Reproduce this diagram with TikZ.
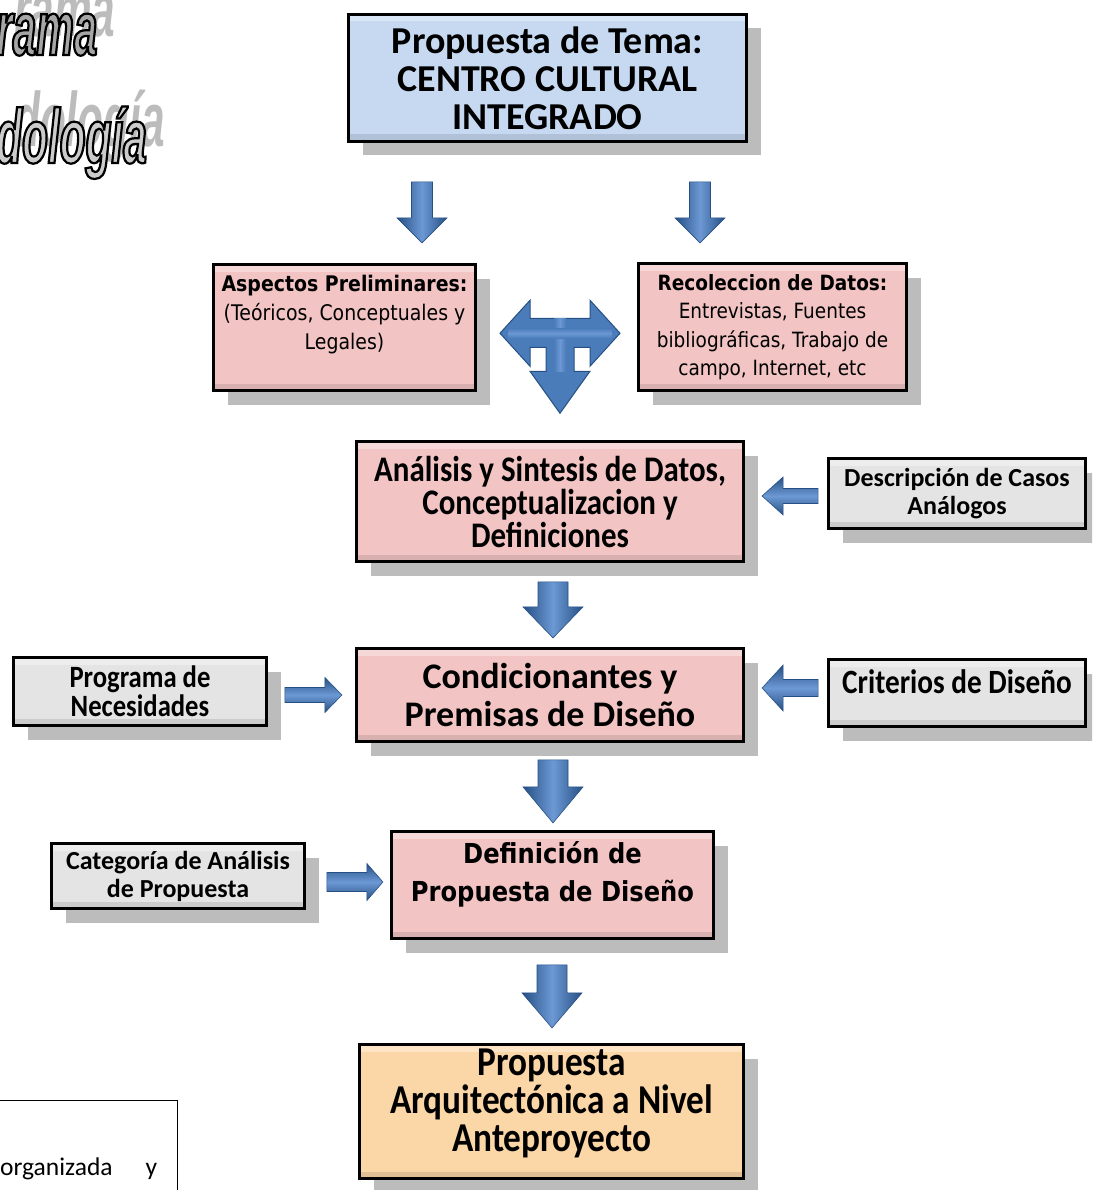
\documentclass[tikz,border=0pt]{standalone}
\usepackage{fontspec}
\usetikzlibrary{calc,shadows}
\setmainfont{Carlito}
\newfontfamily\calfont{Carlito}
\newfontfamily\calcond[FakeStretch=0.86]{Carlito}
\newfontfamily\dvcond[FakeStretch=0.88]{DejaVu Sans}
\newfontfamily\wordart[FakeStretch=0.55]{Liberation Sans}
\newcommand\outlinedtext[1]{\special{pdf:literal q 0 0 0 RG 2.2 w 2 Tr}#1\special{pdf:literal Q}}
\definecolor{arrdark}{RGB}{38,80,132}
\definecolor{arrmid}{RGB}{108,152,212}
\definecolor{arrfill}{RGB}{74,124,186}
\definecolor{pinkfill}{RGB}{242,196,196}
\definecolor{bluefill}{RGB}{198,217,241}
\definecolor{grayfill}{RGB}{228,228,228}
\definecolor{orangefill}{RGB}{251,214,166}
\definecolor{shadowgray}{RGB}{188,188,188}
\tikzset{
  boxbase/.style={draw=black, line width=2.8pt, inner sep=0pt, align=center, text=black,
    drop shadow={shadow xshift=14pt, shadow yshift=-14pt, fill=shadowgray, opacity=1},
    path picture={
      \fill[white,opacity=0.35] (path picture bounding box.north west) rectangle ([yshift=-7pt]path picture bounding box.north east);
      \fill[black,opacity=0.10] ([yshift=7pt]path picture bounding box.south west) rectangle (path picture bounding box.south east);
    }},
  bluebox/.style={boxbase, fill=bluefill},
  pinkbox/.style={boxbase, fill=pinkfill},
  graybox/.style={boxbase, fill=grayfill},
  orangebox/.style={boxbase, fill=orangefill},
  boxtext/.style={align=center, inner sep=0pt, text=black},
  wordartstyle/.style={anchor=base west, inner sep=0pt, font={\wordart\bfseries\itshape\fontsize{77}{77}\selectfont}},
  vshade/.style={left color=arrdark, right color=arrdark, middle color=arrmid, draw=arrdark, line width=0.6pt},
  hshade/.style={top color=arrdark, bottom color=arrdark, middle color=arrmid, draw=arrdark, line width=0.6pt},
  tshade/.style={fill=arrfill, draw=arrdark, line width=1pt, line join=miter},
}
% #1 top centre, #2 shaft half width, #3 head half width, #4 length, #5 head base
\newcommand\vdarrow[5]{\shade[vshade, shift={(#1)}] (-#2,0) -- (#2,0) -- (#2,#5) -- (#3,#5) -- (0,#4) -- (-#3,#5) -- (-#2,#5) -- cycle;}
% #1 tail centre, #2 shaft half width, #3 head half width, #4 tip, #5 head base
\newcommand\harrow[5]{\shade[hshade, shift={(#1)}] (0,-#2) -- (#5,-#2) -- (#5,-#3) -- (#4,0) -- (#5,#3) -- (#5,#2) -- (0,#2) -- cycle;}
\begin{document}
\begin{tikzpicture}[x=1pt,y=-1pt]
\useasboundingbox (0,0) rectangle (1092,1190);
\clip (0,0) rectangle (1092,1190);

% title fragments (top left)
\node[wordartstyle, text=shadowgray] (ramash) at (14,37) {rama};
\node[wordartstyle, text=gray!70] (rama) at (-4,55) {\outlinedtext{rama}};
\node[wordartstyle, text=shadowgray] (dolsh) at (14,147) {dología};
\node[wordartstyle, text=gray!40] (dol) at (-4,163) {\outlinedtext{dología}};

% boxes
\node[bluebox, minimum width=398, minimum height=127, font={\calfont\bfseries\fontsize{38}{38}\selectfont}] (top) at (547.5,78) {Propuesta de Tema:\\CENTRO CULTURAL\\INTEGRADO};

\node[pinkbox, minimum width=262, minimum height=126] (asp) at (344.5,327.5) {};
\node[boxtext, font={\dvcond\fontsize{21.5}{29}\selectfont}] (asptext) at ($(asp.center)+(0,-13)$) {\textbf{Aspectos Preliminares:}\\(Teóricos, Conceptuales y\\Legales)};

\node[pinkbox, minimum width=268, minimum height=127, font={\dvcond\fontsize{21}{28.5}\selectfont}] (rec) at (772.5,327) {\textbf{Recoleccion de Datos:}\\Entrevistas, Fuentes\\bibliográficas, Trabajo de\\campo, Internet, etc};

\node[pinkbox, minimum width=387, minimum height=120, font={\calcond\bfseries\fontsize{36}{33}\selectfont}] (ana) at (550,501.5) {Análisis y Sintesis de Datos,\\Conceptualizacion y\\Definiciones};

\node[graybox, minimum width=257, minimum height=70, font={\calfont\bfseries\fontsize{26}{28}\selectfont}] (desc) at (957,493.5) {Descripción de Casos\\Análogos};

\node[graybox, minimum width=253, minimum height=68, font={\calcond\bfseries\fontsize{31}{29}\selectfont}] (prog) at (140,691.5) {Programa de\\Necesidades};

\node[pinkbox, minimum width=387, minimum height=93, font={\calfont\bfseries\fontsize{36}{38}\selectfont}] (cond) at (550,695) {Condicionantes y\\Premisas de Diseño};

\node[graybox, minimum width=257, minimum height=67] (crit) at (957,693) {};
\node[boxtext, font={\calcond\bfseries\fontsize{34}{34}\selectfont}] (crittext) at ($(crit.center)+(0,-11)$) {Criterios de Diseño};

\node[pinkbox, minimum width=322, minimum height=107] (def) at (552.5,885) {};
\node[boxtext, font={\dvcond\bfseries\fontsize{27.5}{38}\selectfont}] (deftext) at ($(def.center)+(0,-11)$) {Definición de\\Propuesta de Diseño};

\node[graybox, minimum width=253, minimum height=65, font={\calfont\bfseries\fontsize{26}{28}\selectfont}] (cat) at (178,876) {Categoría de Análisis\\de Propuesta};

\node[orangebox, minimum width=384, minimum height=134] (fin) at (551.5,1111.5) {};
\node[boxtext, font={\calcond\bfseries\fontsize{41}{38}\selectfont}] (fintext) at ($(fin.center)+(0,-8)$) {Propuesta\\Arquitectónica a Nivel\\Anteproyecto};

% partial note box (bottom left)
\node[draw=black, line width=1.2pt, minimum width=200, minimum height=110, anchor=north east, inner sep=0pt] (note) at (178,1100) {};
\node[anchor=base west, inner sep=0pt, font={\calfont\fontsize{25.5}{30}\selectfont}] (notetext) at (0,1175) {\makebox[157pt][s]{organizada y}};

% block arrows
\coordinate (v1) at ($(top.south)+(-125.5,39)$);
\coordinate (v2) at ($(top.south)+(152.5,39)$);
\coordinate (v3) at ($(ana.south)+(3,19)$);
\coordinate (v4) at ($(cond.south)+(3,17)$);
\coordinate (v5) at ($(def.south)+(-0.5,25)$);
\vdarrow{v1}{10.5}{25}{61}{36}
\vdarrow{v2}{10.5}{25}{61}{36}
\vdarrow{v3}{15}{30}{56}{25}
\vdarrow{v4}{15}{30}{63}{27}
\vdarrow{v5}{15}{30}{63}{28}

\coordinate (h1) at ($(desc.west)+(-9,2.5)$);
\coordinate (h2) at ($(crit.west)+(-9,-5)$);
\coordinate (h3) at ($(prog.east)+(17,3.5)$);
\coordinate (h4) at ($(cat.east)+(21,6)$);
\harrow{h1}{7.5}{19}{-56}{-35}
\harrow{h2}{8.5}{23}{-56}{-35}
\harrow{h3}{7.5}{17.5}{57}{40}
\harrow{h4}{9.5}{18.5}{56}{40}

% T-shaped arrow between the two upper boxes and down to the analysis box
\coordinate (tc) at ($(asp.east)!0.5!(rec.west)+(3,6)$);
\path[tshade, shift={(tc)}] (-60,0) -- (-30,-33) -- (-30,-15) -- (30,-15) -- (30,-33) -- (60,0) -- (30,33) -- (30,14) -- (14,14) -- (14,38) -- (30,38) -- (0,80) -- (-30,38) -- (-14,38) -- (-14,14) -- (-30,14) -- (-30,33) -- cycle;
\shade[shift={(tc)}, left color=arrfill, right color=arrfill, middle color=arrmid] (-6,-15) rectangle (6,38);
\shade[shift={(tc)}, top color=arrfill, bottom color=arrfill, middle color=arrmid] (-52,-5) rectangle (52,5);
\end{tikzpicture}
\end{document}
